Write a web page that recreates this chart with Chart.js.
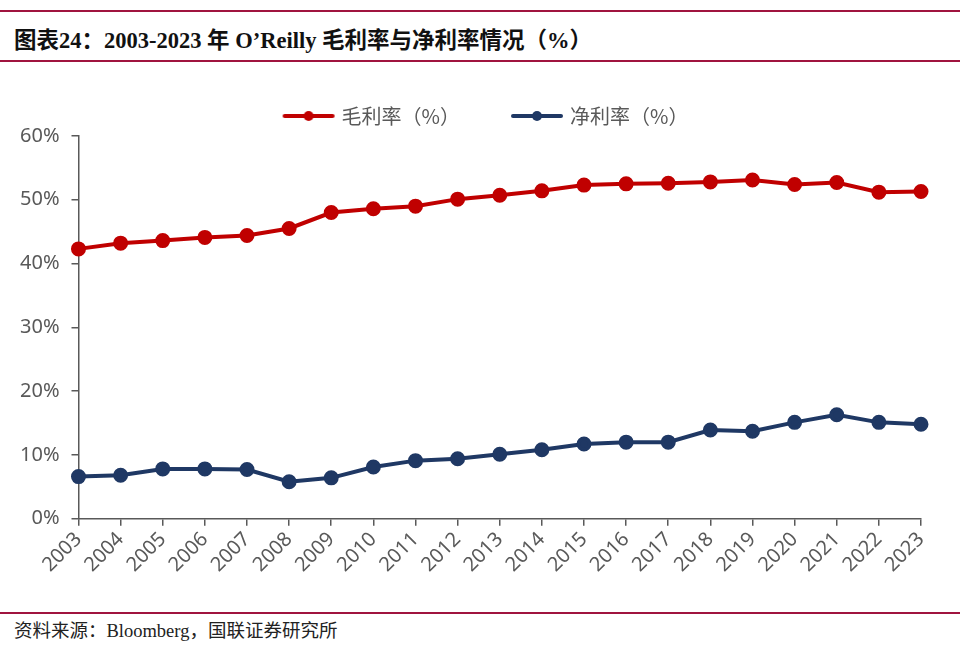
<!DOCTYPE html>
<html>
<head>
<meta charset="utf-8">
<script src="https://cdn.jsdelivr.net/npm/chart.js@4.4.1/dist/chart.umd.min.js"></script>
<style>
  html, body { margin: 0; padding: 0; background: #fff; }
  body { width: 960px; height: 648px; position: relative; overflow: hidden; }
  .rule { position: absolute; left: 0; width: 960px; height: 2px; background: #a0143f; }
  #title {
    position: absolute; left: 14px; top: 22px;
    font: bold 22.5px "Liberation Serif", "Noto Sans CJK SC", serif; color: #111;
  }
  #source {
    position: absolute; left: 14px; top: 616px;
    font: 18.5px "Liberation Serif", "Noto Sans CJK SC", serif; color: #222;
  }
  #wrap { position: absolute; left: 0; top: 58px; width: 960px; height: 554px; }
</style>
</head>
<body>
<div class="rule" style="top:10px"></div>
<div id="title">图表24：2003-2023 年 O’Reilly 毛利率与净利率情况（%）</div>
<div class="rule" style="top:60px"></div>
<div id="wrap"><canvas id="chart"></canvas></div>
<div class="rule" style="top:612px"></div>
<div id="source">资料来源：Bloomberg，国联证券研究所</div>
<script>
// years on the x axis
const years = ["2003", "2004", "2005", "2006", "2007", "2008", "2009", "2010", "2011", "2012",
  "2013", "2014", "2015", "2016", "2017", "2018", "2019", "2020", "2021", "2022", "2023"];
// gross margin (%)
const grossMargin = [42.3, 43.2, 43.6, 44.1, 44.4, 45.5, 48.0, 48.6, 49.0, 50.1,
  50.7, 51.4, 52.3, 52.5, 52.6, 52.8, 53.1, 52.4, 52.7, 51.2, 51.3];
// net margin (%)
const netMargin = [6.6, 6.8, 7.8, 7.8, 7.7, 5.8, 6.4, 8.1, 9.1, 9.4,
  10.1, 10.8, 11.7, 12.0, 12.0, 13.9, 13.7, 15.1, 16.3, 15.1, 14.8];
const yTicks = [0, 10, 20, 30, 40, 50, 60];

const RED = "#c00000";
const NAVY = "#1f3864";
const GREY = "#595959";
const TICK_FONT = { family: "'Noto Sans', 'Open Sans', sans-serif", size: 20 };

// legend marker: short line with a dot in the middle
// (image is wider than the legend box so the line sits closer to the text)
function legendMarker(color) {
  const c = document.createElement("canvas");
  c.width = 64;
  c.height = 12;
  const g = c.getContext("2d");
  g.strokeStyle = color;
  g.lineWidth = 4;
  g.lineCap = "round";
  g.beginPath();
  g.moveTo(11, 6);
  g.lineTo(59, 6);
  g.stroke();
  g.fillStyle = color;
  g.beginPath();
  g.arc(35, 6, 5, 0, Math.PI * 2);
  g.fill();
  return c;
}

const ctx = document.getElementById("chart").getContext("2d");
const chartSetup = {
  type: "line",
  data: {
    labels: years,
    datasets: [
      {
        label: "毛利率（%）",
        data: grossMargin,
        borderColor: RED,
        backgroundColor: RED,
        borderWidth: 4,
        pointRadius: 5.5,
        pointHoverRadius: 5.5,
      },
      {
        label: "净利率（%）",
        data: netMargin,
        borderColor: NAVY,
        backgroundColor: NAVY,
        borderWidth: 4,
        pointRadius: 5.5,
        pointHoverRadius: 5.5,
      },
    ],
  },
  options: {
    responsive: true,
    maintainAspectRatio: false,
    animation: false,
    layout: { padding: { top: 0, left: 8, right: 0, bottom: 33 } },
    scales: {
      x: {
        offset: false,
        grid: { drawOnChartArea: false, drawTicks: true, tickLength: 7, color: GREY, lineWidth: 1.5 },
        border: { display: true, color: GREY, width: 1.5 },
        ticks: {
          color: GREY,
          autoSkip: false,
          maxRotation: 45,
          minRotation: 45,
          padding: 2,
          font: TICK_FONT,
        },
      },
      y: {
        min: 0,
        max: 60,
        afterBuildTicks: (axis) => { axis.ticks = yTicks.map((v) => ({ value: v })); },
        grid: { drawOnChartArea: false, drawTicks: true, tickLength: 7, color: GREY, lineWidth: 1.5 },
        border: { display: true, color: GREY, width: 1.5 },
        ticks: {
          color: GREY,
          padding: 12,
          callback: (v) => v + "%",
          font: TICK_FONT,
        },
      },
      // empty right-hand spacer so the plot ends where the original does
      spacer: {
        type: "linear",
        position: "right",
        grid: { display: false },
        border: { display: false },
        ticks: { display: false },
        afterFit: (axis) => { axis.width = 39; },
      },
    },
    plugins: {
      legend: {
        position: "top",
        labels: {
          color: GREY,
          usePointStyle: true,
          pointStyleWidth: 52,
          padding: 48,
          font: { family: "'Noto Sans CJK SC', sans-serif", size: 20 },
          generateLabels: (chart) =>
            chart.data.datasets.map((ds, i) => ({
              text: ds.label,
              fillStyle: ds.borderColor,
              strokeStyle: ds.borderColor,
              fontColor: GREY,
              lineWidth: 0,
              pointStyle: legendMarker(ds.borderColor),
              datasetIndex: i,
              hidden: false,
            })),
        },
      },
      tooltip: { enabled: false },
    },
  },
};
const myChart = new Chart(ctx, chartSetup);
</script>
</body>
</html>
